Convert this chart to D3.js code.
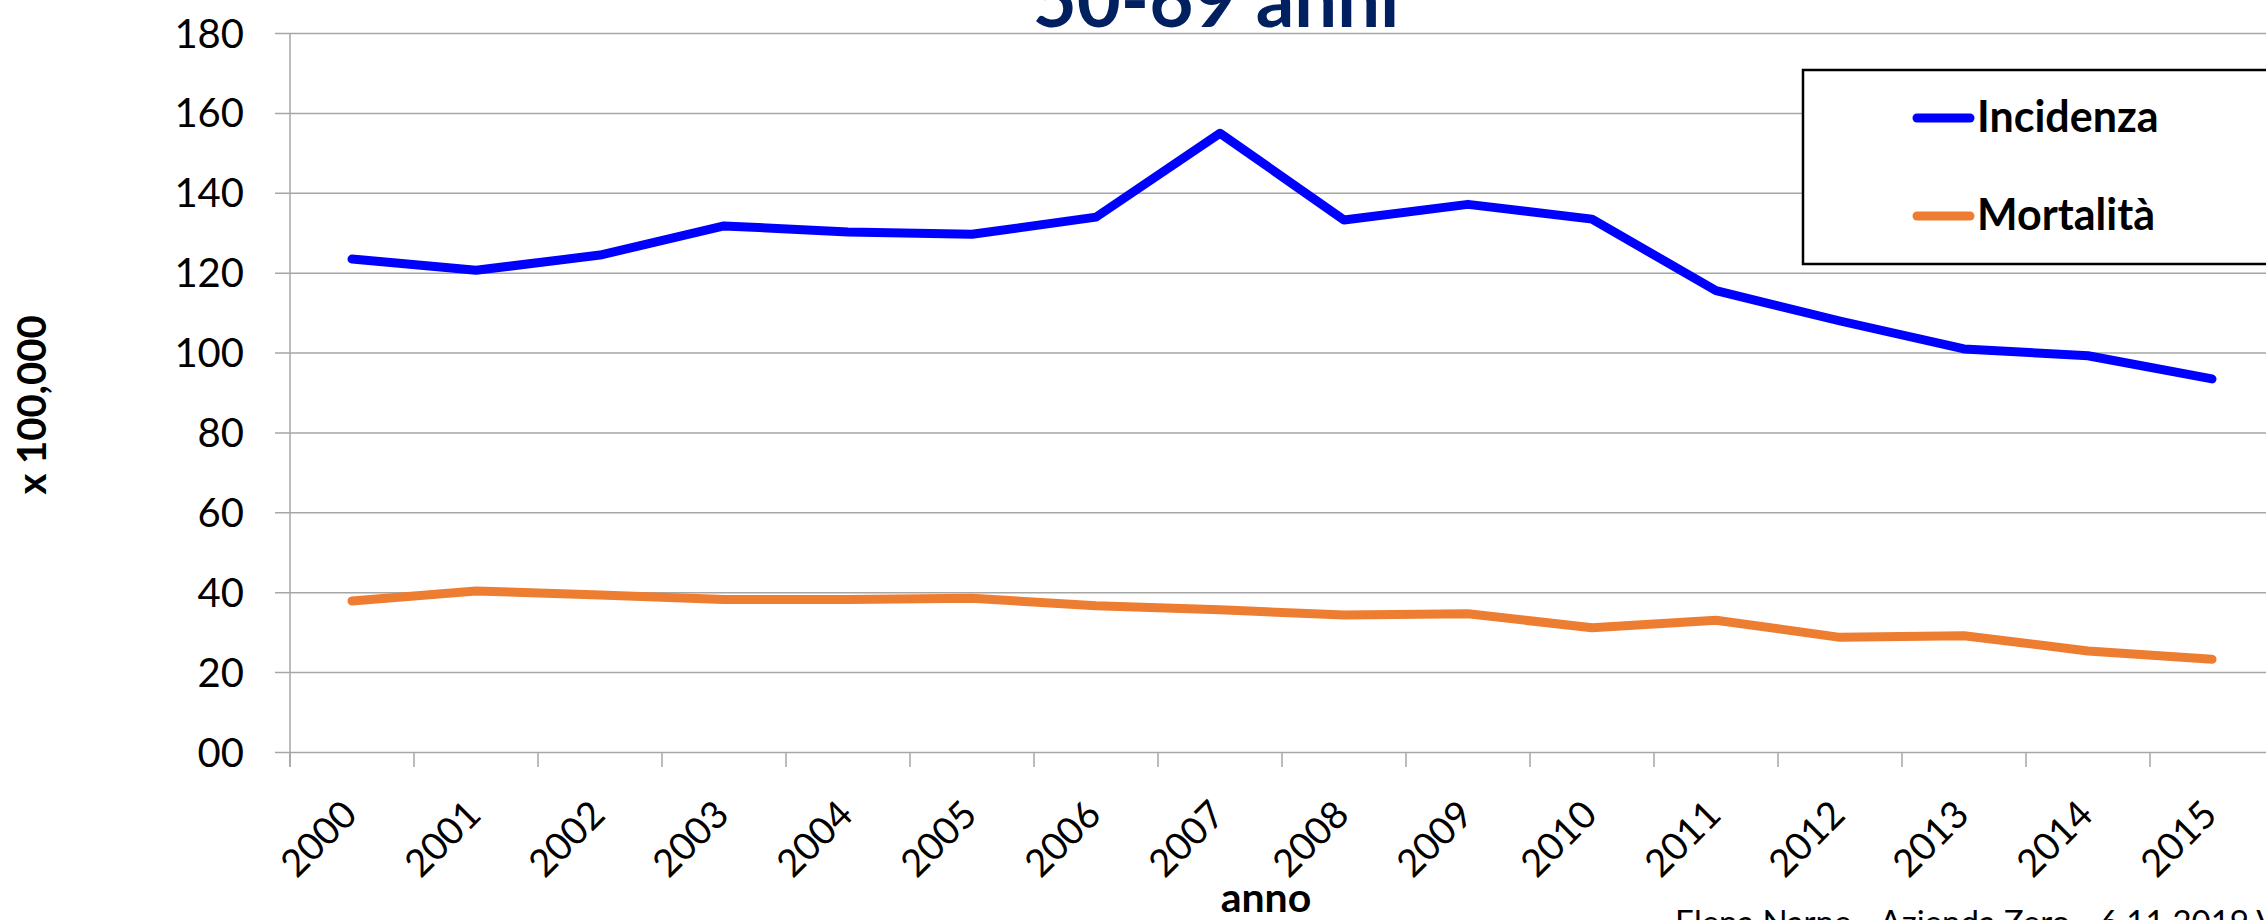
<!DOCTYPE html>
<html>
<head>
<meta charset="utf-8">
<script src="https://cdn.jsdelivr.net/npm/d3@7/dist/d3.min.js"></script>
<style>
  html, body { margin: 0; padding: 0; background: #fff; overflow: hidden; }
  svg { display: block; }
  text { font-family: Lato, "Open Sans", "Liberation Sans", sans-serif; }
</style>
</head>
<body>
<svg id="chart" width="2266" height="920"></svg>
<script>
// ---- data ----
const years = ["2000","2001","2002","2003","2004","2005","2006","2007","2008","2009","2010","2011","2012","2013","2014","2015"];
const incidenza = [123.4, 120.6, 124.4, 131.7, 130.2, 129.6, 133.9, 154.9, 133.2, 137.1, 133.4, 115.5, 107.9, 100.9, 99.2, 93.4];
const mortalita = [37.8, 40.3, 39.3, 38.2, 38.2, 38.5, 36.6, 35.6, 34.3, 34.6, 31.1, 33.0, 28.7, 29.1, 25.3, 23.2];
const yTicks = [0, 20, 40, 60, 80, 100, 120, 140, 160, 180];
const seriesNames = ["Incidenza", "Mortalità"];
const seriesColors = ["#0000FF", "#ED7D31"];
const titleText = "50-69 anni";
const xTitle = "anno";
const yTitle = "x 100,000";
const footer = "Elena Narne - Azienda Zero - 6.11.2019 Venezia";

// ---- layout ----
const W = 2266, H = 920;
const plot = { left: 290, top: 33, bottom: 752, right: 290 + 16 * 124 };
const svg = d3.select("#chart");

const x = d3.scaleBand().domain(years).range([plot.left, plot.right]).padding(0);
const y = d3.scaleLinear().domain([0, 180]).range([plot.bottom, plot.top]);
const cx = d => x(d) + x.bandwidth() / 2;
const gridColor = "#A6A6A6";

// gridlines + y ticks via axis
const yAxis = d3.axisLeft(y)
  .tickValues(yTicks)
  .tickSize(-(W - plot.left + 40))
  .tickPadding(46)
  .tickFormat(d3.format("02d"));
const gy = svg.append("g").attr("transform", `translate(${plot.left},0)`).call(yAxis);
gy.select(".domain").remove();
gy.selectAll(".tick line").attr("stroke", gridColor).attr("stroke-width", 1.5).attr("x1", -15);
gy.selectAll(".tick text")
  .attr("font-size", 40)
  .attr("fill", "#000")
  .attr("dy", "0.35em")
  .style("font-family", "Lato, sans-serif");

// y axis line
svg.append("line")
  .attr("x1", plot.left).attr("x2", plot.left)
  .attr("y1", y(180)).attr("y2", plot.bottom + 15)
  .attr("stroke", gridColor).attr("stroke-width", 1.5);

// x axis ticks at band boundaries
svg.append("g").selectAll("line").data(years).join("line")
  .attr("x1", d => x(d)).attr("x2", d => x(d))
  .attr("y1", plot.bottom).attr("y2", plot.bottom + 15)
  .attr("stroke", gridColor).attr("stroke-width", 1.5);

// x tick labels rotated
svg.append("g").selectAll("text").data(years).join("text")
  .attr("transform", d => `translate(${cx(d) + 7},${plot.bottom + 65}) rotate(-45)`)
  .attr("text-anchor", "end")
  .attr("font-size", 38)
  .attr("fill", "#000")
  .text(d => d);

// lines
const line = d3.line().x((d, i) => cx(years[i])).y(d => y(d));
[incidenza, mortalita].forEach((s, k) => {
  svg.append("path")
    .datum(s)
    .attr("d", line)
    .attr("fill", "none")
    .attr("stroke", seriesColors[k])
    .attr("stroke-width", 9)
    .attr("stroke-linejoin", "round")
    .attr("stroke-linecap", "round");
});

// title
svg.append("text")
  .attr("x", 1216).attr("y", 27)
  .attr("text-anchor", "middle")
  .attr("font-size", 76)
  .attr("font-weight", "bold")
  .attr("fill", "#002060")
  .text(titleText);

// legend
const lg = svg.append("g");
lg.append("rect")
  .attr("x", 1803).attr("y", 70).attr("width", 520).attr("height", 194)
  .attr("fill", "#fff").attr("stroke", "#000").attr("stroke-width", 2.5);
seriesNames.forEach((n, i) => {
  const ly = 118 + i * 98;
  lg.append("line")
    .attr("x1", 1917).attr("x2", 1970).attr("y1", ly).attr("y2", ly)
    .attr("stroke", seriesColors[i]).attr("stroke-width", 9).attr("stroke-linecap", "round");
  lg.append("text")
    .attr("x", 1977).attr("y", ly + 14)
    .attr("font-size", 43).attr("font-weight", "bold").attr("fill", "#000")
    .text(n);
});

// axis titles
svg.append("text")
  .attr("x", 1266).attr("y", 912)
  .attr("text-anchor", "middle")
  .attr("font-size", 41).attr("font-weight", "bold").attr("fill", "#000")
  .text(xTitle);

svg.append("text")
  .attr("transform", `translate(46,405) rotate(-90)`)
  .attr("text-anchor", "middle")
  .attr("font-size", 40).attr("font-weight", "bold").attr("fill", "#000")
  .text(yTitle);

// footer
svg.append("text")
  .attr("x", 1675).attr("y", 934)
  .attr("font-size", 33).attr("fill", "#000")
  .text(footer);
</script>
</body>
</html>
